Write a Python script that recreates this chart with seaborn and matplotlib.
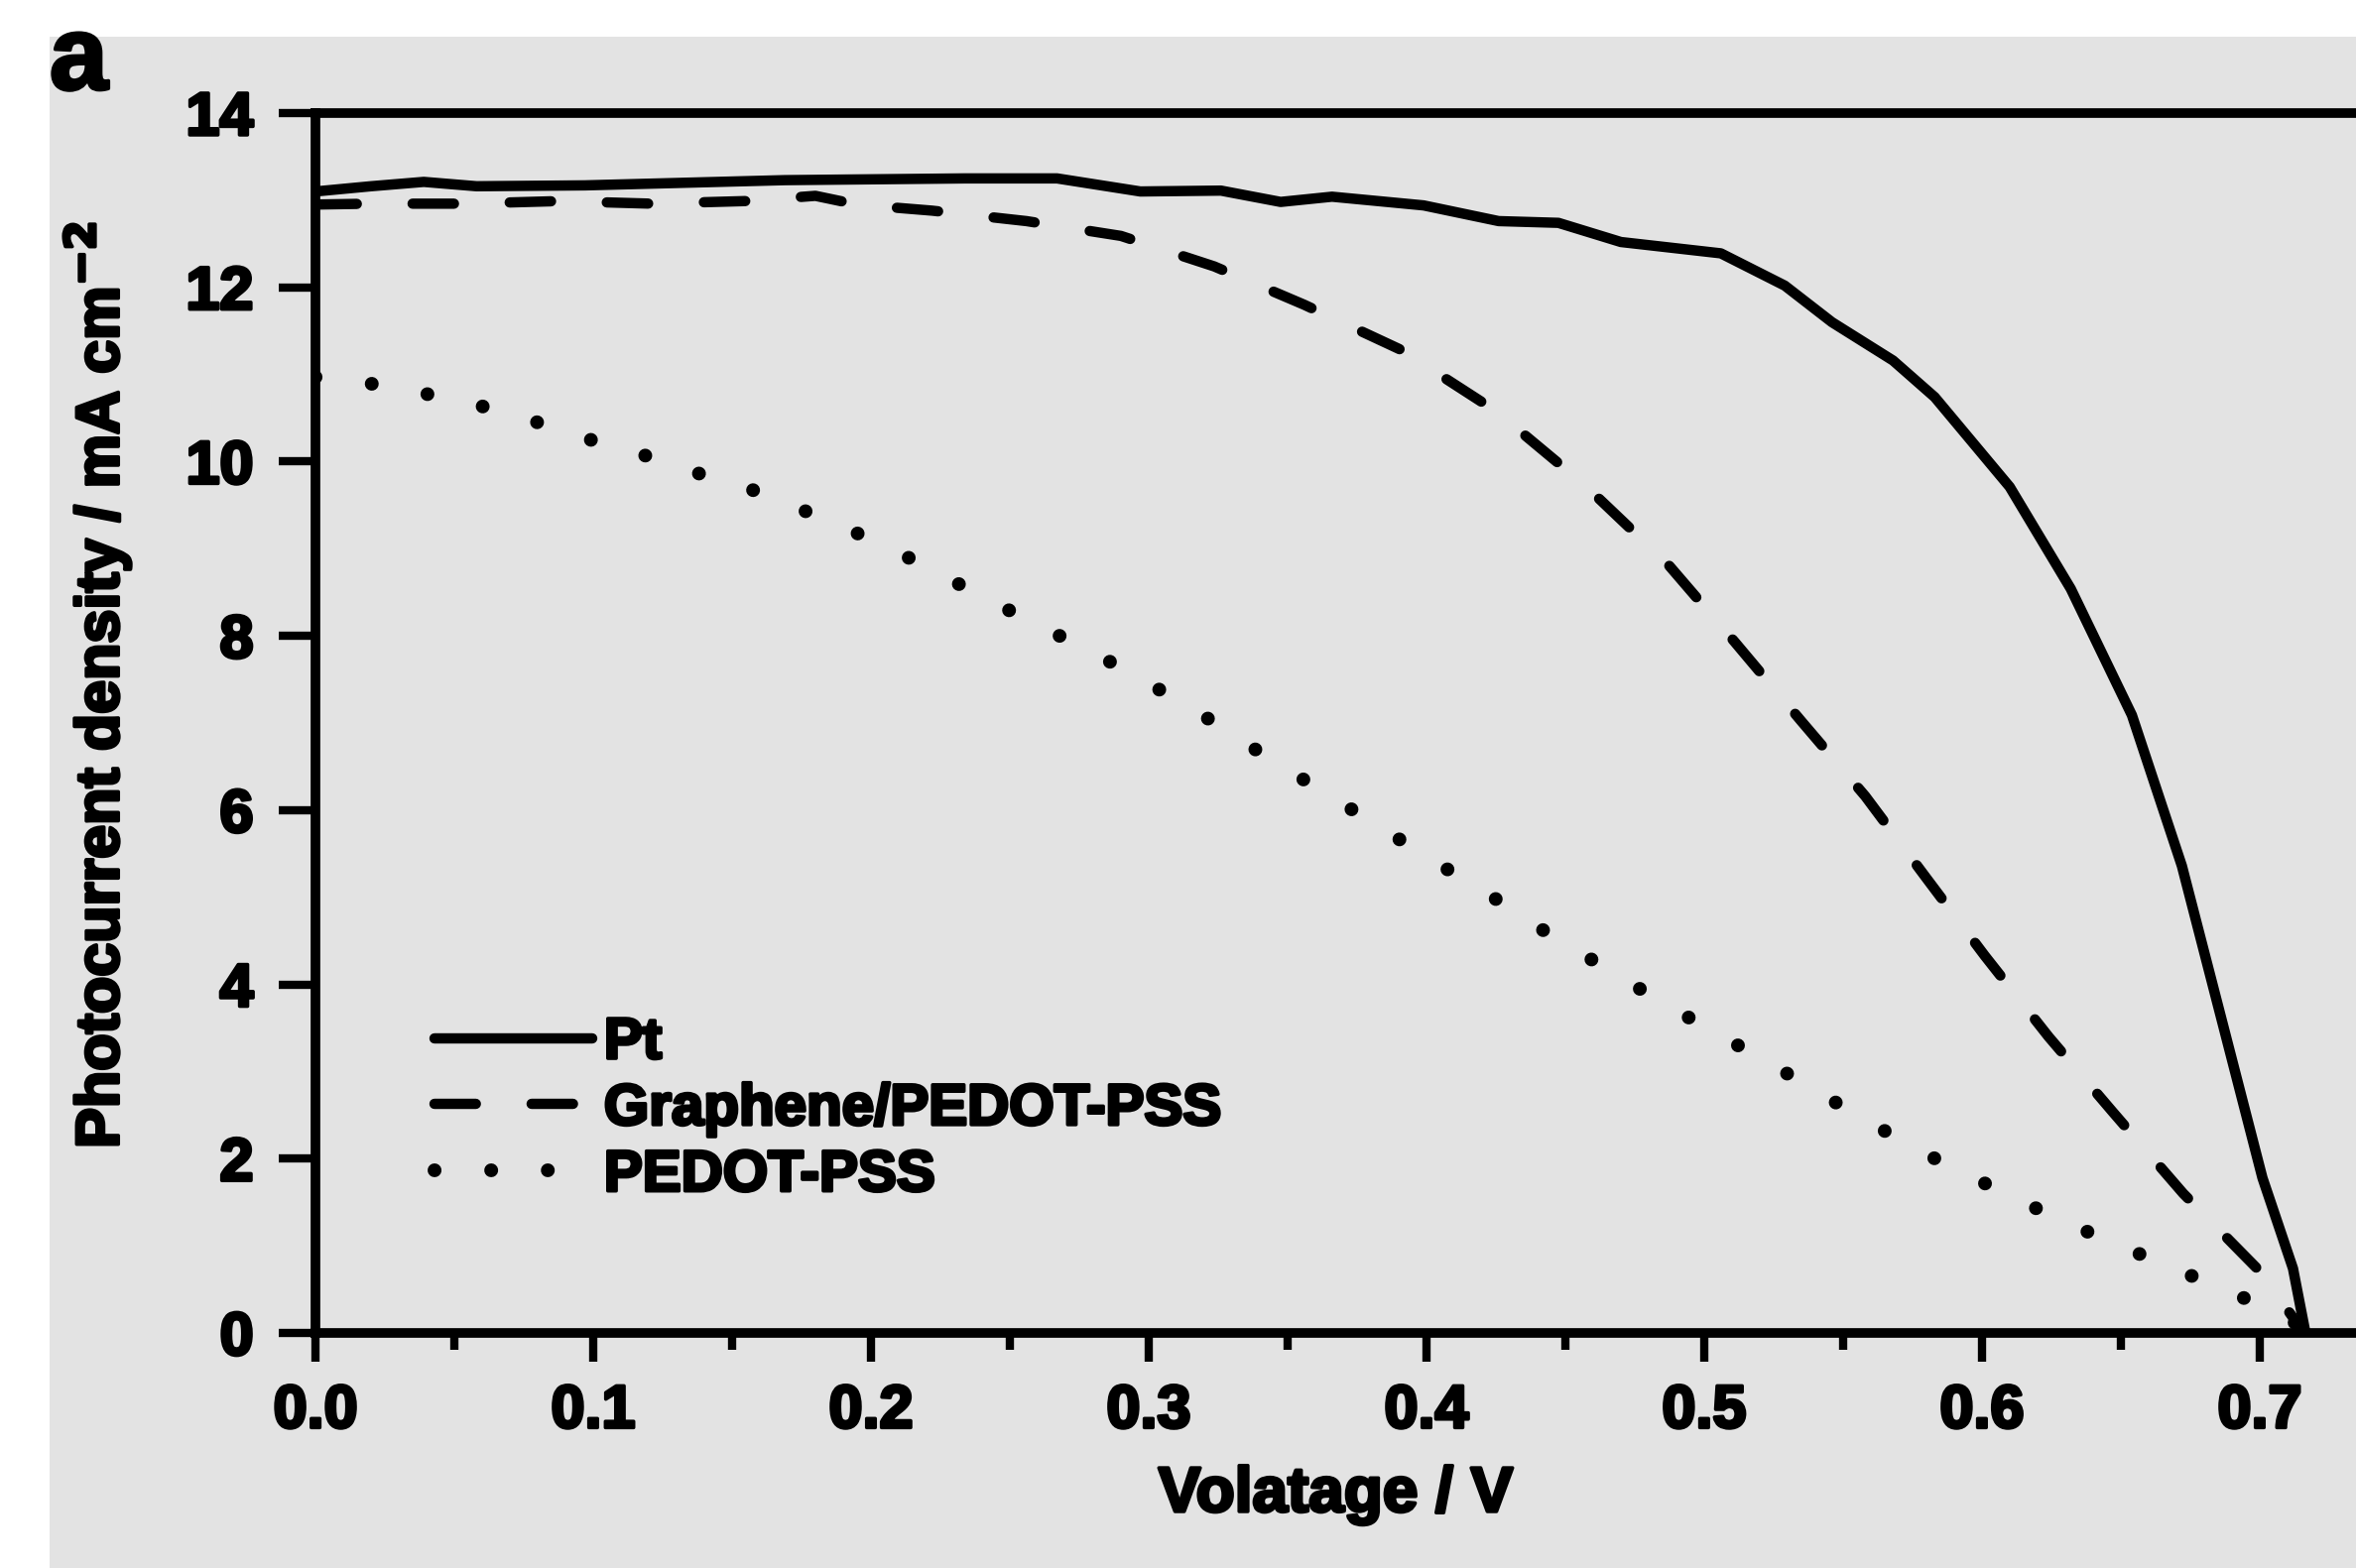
import pandas as pd
import matplotlib.pyplot as plt
import matplotlib.patheffects as pe
import seaborn as sns
from matplotlib.patches import Rectangle
from matplotlib.ticker import MultipleLocator, FormatStrFormatter

# values
pt_v = [0.0, 0.02, 0.039, 0.058, 0.097, 0.169, 0.234, 0.267, 0.297, 0.326, 0.3475,
        0.366, 0.399, 0.426, 0.4475, 0.47, 0.506, 0.529, 0.546, 0.568, 0.583, 0.61,
        0.632, 0.654, 0.672, 0.687, 0.701, 0.712, 0.7165]
pt_j = [13.10, 13.16, 13.21, 13.16, 13.17, 13.23, 13.25, 13.25, 13.10, 13.11, 12.98,
        13.04, 12.94, 12.76, 12.74, 12.52, 12.39, 12.02, 11.60, 11.16, 10.74, 9.71,
        8.54, 7.09, 5.36, 3.51, 1.78, 0.74, 0.0]

gr_v = [0.0, 0.02, 0.054, 0.088, 0.121, 0.155, 0.18, 0.195, 0.222, 0.256, 0.29,
        0.3236, 0.356, 0.391, 0.425, 0.457, 0.487, 0.511, 0.535, 0.558, 0.58, 0.601,
        0.624, 0.647, 0.6725, 0.70, 0.716]
gr_j = [12.95, 12.96, 12.96, 12.99, 12.96, 12.99, 13.05, 12.95, 12.88, 12.76, 12.59,
        12.24, 11.80, 11.28, 10.58, 9.73, 8.82, 7.93, 7.02, 6.16, 5.22, 4.33,
        3.40, 2.54, 1.60, 0.71, 0.0]

pe_v = [0.0, 0.021, 0.041, 0.062, 0.081, 0.102, 0.122, 0.142, 0.162, 0.183, 0.203,
        0.2225, 0.2425, 0.263, 0.284, 0.304, 0.324, 0.343, 0.364, 0.384, 0.404, 0.424,
        0.445, 0.465, 0.485, 0.505, 0.526, 0.546, 0.566, 0.586, 0.606, 0.626, 0.646,
        0.667, 0.687, 0.707, 0.716]
pe_j = [10.97, 10.89, 10.77, 10.62, 10.44, 10.22, 10.04, 9.82, 9.63, 9.34, 9.07,
        8.75, 8.41, 8.08, 7.74, 7.38, 7.00, 6.60, 6.19, 5.79, 5.39, 5.00,
        4.56, 4.18, 3.79, 3.43, 3.05, 2.67, 2.30, 1.95, 1.64, 1.33, 1.05,
        0.77, 0.50, 0.23, 0.05]

labels = ['Pt', 'Graphene/PEDOT-PSS', 'PEDOT-PSS']
x_ticks = [0.0, 0.1, 0.2, 0.3, 0.4, 0.5, 0.6, 0.7]
y_ticks = [0, 2, 4, 6, 8, 10, 12, 14]

sns.set_style("ticks")
plt.rcParams['font.family'] = ['Liberation Sans', 'DejaVu Sans']
plt.rcParams['font.weight'] = 'bold'
plt.rcParams['text.color'] = 'black'
plt.rcParams['axes.labelcolor'] = 'black'

# heavier glyphs, like the scanned figure
heavy = [pe.withStroke(linewidth=2.5, foreground='black')]

fig = plt.figure(figsize=(23.75, 15.81), dpi=100)
fig.patch.set_facecolor('white')
# gray scanned-page background
fig.patches.append(Rectangle((50 / 2375, 0), 1, 1 - 37 / 1581, transform=fig.transFigure,
                             facecolor='#e3e3e3', edgecolor='none', zorder=-5))

ax = fig.add_axes([0.1339, 0.1499, 0.866, 0.778])
ax.set_zorder(2)
ax.set_facecolor('none')

df_pt = pd.DataFrame({'V': pt_v, 'J': pt_j})
df_gr = pd.DataFrame({'V': gr_v, 'J': gr_j})
df_pe = pd.DataFrame({'V': pe_v, 'J': pe_j})

sns.lineplot(data=df_pt, x='V', y='J', ax=ax, color='black', lw=7.5, label=labels[0])
sns.lineplot(data=df_gr, x='V', y='J', ax=ax, color='black', lw=7.5,
             linestyle=(0, (4.0, 5.4)), dash_capstyle='round', label=labels[1])
sns.lineplot(data=df_pe, x='V', y='J', ax=ax, color='black', lw=10,
             linestyle=(0, (0.01, 4.1)), dash_capstyle='round', label=labels[2])

ax.set_xlim(0, 0.7346)
ax.set_ylim(0, 14)
ax.set_xticks(x_ticks)
ax.set_yticks(y_ticks)
ax.xaxis.set_minor_locator(MultipleLocator(0.05))
ax.xaxis.set_major_formatter(FormatStrFormatter('%.1f'))

for side in ['left', 'bottom', 'top']:
    ax.spines[side].set_linewidth(7)
    ax.spines[side].set_color('black')
ax.spines['right'].set_visible(False)

ax.tick_params(axis='both', which='major', direction='out', length=21, width=6,
               labelsize=44, colors='black', pad=16)
ax.tick_params(axis='x', which='minor', direction='out', length=12, width=6,
               colors='black')
ax.tick_params(axis='y', which='major', length=27, pad=18)
ax.tick_params(top=False, right=False)
for lab in ax.get_xticklabels() + ax.get_yticklabels():
    lab.set_path_effects(heavy)

ax.set_xlabel('Volatage / V', fontsize=46, fontweight='bold')
ax.set_ylabel('Photocurrent density / mA cm$^{\\mathbf{-2}}$', fontsize=44, fontweight='bold')
ax.xaxis.set_label_coords(0.5, -0.1325)
ax.xaxis.label.set_va('center')
ax.xaxis.label.set_path_effects(heavy)
ax.yaxis.set_label_coords(-0.1065, 0.531)
ax.yaxis.label.set_va('center')
ax.yaxis.label.set_ha('center')
ax.yaxis.label.set_path_effects(heavy)

leg = ax.legend(loc='center left', bbox_to_anchor=(0.0583, 0.183), frameon=False,
                borderpad=0, borderaxespad=0, handlelength=2.73, handletextpad=0.2,
                labelspacing=0.22, prop={'size': 42, 'weight': 'bold'})
for t in leg.get_texts():
    t.set_path_effects(heavy)

fig.text(50 / 2375, 1 - 90 / 1581, 'a', fontsize=76, fontweight='bold',
         color='black', ha='left', va='baseline', path_effects=heavy)

fig.savefig('out.png', dpi=100)
